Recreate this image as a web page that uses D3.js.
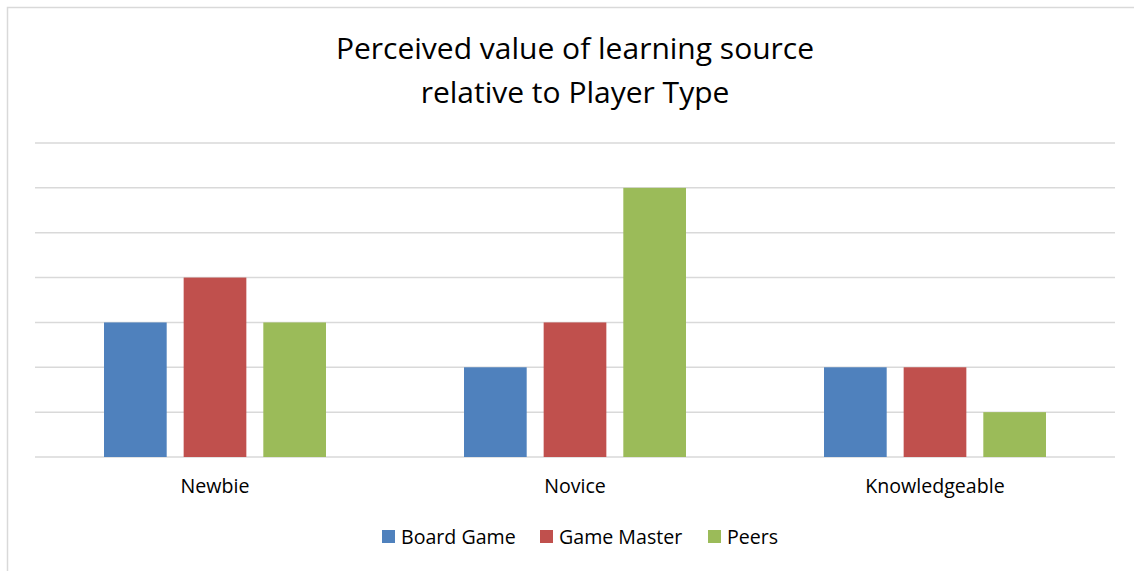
<!doctype html>
<html>
<head>
  <meta charset="utf-8">
  <script src="https://cdn.jsdelivr.net/npm/d3@7"></script>
  <style>
    body { margin: 0; background: #fff; }
    text { font-family: "Open Sans", Lato, sans-serif; fill: #000; }
  </style>
</head>
<body>
<script>
  var categories = ["Newbie", "Novice", "Knowledgeable"];
  var seriesNames = ["Board Game", "Game Master", "Peers"];
  var boardGame = [3, 2, 2];
  var gameMaster = [4, 3, 2];
  var peers = [3, 6, 1];
  var colors = ["#4F81BD", "#C0504D", "#9BBB59"];
  var titleLines = ["Perceived value of learning source", "relative to Player Type"];

  var w = 1134, h = 571;
  var seriesValues = [boardGame, gameMaster, peers];

  var svg = d3.select("body").append("svg")
    .attr("width", w)
    .attr("height", h);

  // chart area border (runs off the right and bottom edge)
  svg.append("rect")
    .attr("x", 7.5).attr("y", 7.5)
    .attr("width", w + 20).attr("height", h + 20)
    .attr("fill", "none")
    .attr("stroke", "#d9d9d9")
    .attr("stroke-width", 1.5);

  var plot = { left: 35, right: 1115, top: 143, bottom: 457 };

  var x0 = d3.scaleBand().domain(categories).range([plot.left, plot.right]);
  var x1 = d3.scaleBand().domain(seriesNames)
    .range([69, x0.bandwidth() - 69]).paddingInner(0.213);
  var y = d3.scaleLinear().domain([0, 7]).range([plot.bottom, plot.top]);

  // gridlines
  svg.append("g").selectAll("line")
    .data(y.ticks(7))
    .enter().append("line")
      .attr("x1", plot.left).attr("x2", plot.right)
      .attr("y1", function(d){ return y(d); })
      .attr("y2", function(d){ return y(d); })
      .attr("stroke", "#d9d9d9")
      .attr("stroke-width", 1.5);

  // bars
  var groups = svg.append("g").selectAll("g")
    .data(categories)
    .enter().append("g")
      .attr("transform", function(d){ return "translate(" + x0(d) + ",0)"; });

  groups.selectAll("rect")
    .data(function(d, i){
      return seriesNames.map(function(s, j){ return { s: s, v: seriesValues[j][i], c: colors[j] }; });
    })
    .enter().append("rect")
      .attr("x", function(d){ return x1(d.s); })
      .attr("width", x1.bandwidth())
      .attr("y", function(d){ return y(d.v); })
      .attr("height", function(d){ return y(0) - y(d.v); })
      .attr("fill", function(d){ return d.c; });

  // category labels
  svg.append("g").selectAll("text")
    .data(categories)
    .enter().append("text")
      .attr("x", function(d){ return x0(d) + x0.bandwidth() / 2; })
      .attr("y", 493)
      .attr("text-anchor", "middle")
      .style("font-size", "19.6px")
      .text(function(d){ return d; });

  // title
  svg.append("g").selectAll("text")
    .data(titleLines)
    .enter().append("text")
      .attr("x", 575)
      .attr("y", function(d, i){ return 59 + i * 43.5; })
      .attr("text-anchor", "middle")
      .style("font-size", "30px")
      .text(function(d){ return d; });

  // legend
  var legendX = [382, 540, 708];
  var legend = svg.append("g").selectAll("g")
    .data(seriesNames)
    .enter().append("g")
      .attr("transform", function(d, i){ return "translate(" + legendX[i] + ",530)"; });
  legend.append("rect")
    .attr("width", 13).attr("height", 13)
    .attr("fill", function(d, i){ return colors[i]; });
  legend.append("text")
    .attr("x", 19).attr("y", 14)
    .style("font-size", "19.6px")
    .text(function(d){ return d; });
</script>
</body>
</html>
